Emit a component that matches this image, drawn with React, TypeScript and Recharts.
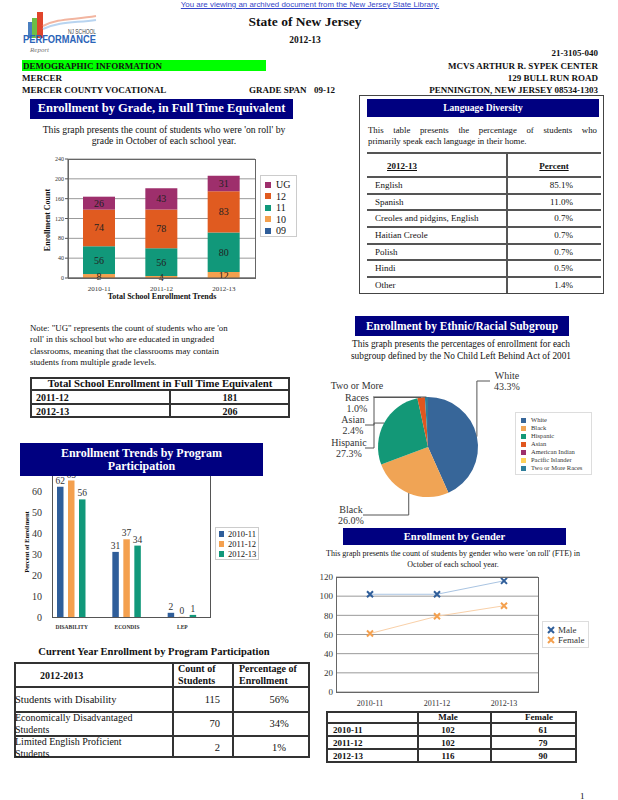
import React from 'react';
import { BarChart, Bar, XAxis, YAxis, CartesianGrid, LabelList, PieChart, Pie, Cell, LineChart, Line } from 'recharts';

const SERIF = '"Liberation Serif", "Times New Roman", serif';
const SANS = '"Liberation Sans", Arial, sans-serif';
const NAVY = '#000080';

// enrollment by grade (FTE)
const gradeYears = ['2010-11', '2011-12', '2012-13'];
const grade09 = [0, 0, 0];
const grade10 = [8, 4, 12];
const grade11 = [56, 56, 80];
const grade12 = [74, 78, 83];
const gradeUG = [26, 43, 31];
const gradeTicks = [0, 40, 80, 120, 160, 200, 240];

// language diversity 2012-13
const languages = ['English', 'Spanish', 'Creoles and pidgins, English', 'Haitian Creole', 'Polish', 'Hindi', 'Other'];
const languagePct = ['85.1%', '11.0%', '0.7%', '0.7%', '0.7%', '0.5%', '1.4%'];

// total school enrollment
const totalYears = ['2011-12', '2012-13'];
const totalFTE = [181, 206];

// program participation trends (percent)
const programs = ['DISABILITY', 'ECONDIS', 'LEP'];
const program1011 = [62, 31, 2];
const program1112 = [65, 37, 0];
const program1213 = [56, 34, 1];
const programTicks = [0, 10, 20, 30, 40, 50, 60, 70];

// current year program participation
const currentPrograms = ['Students with Disability', 'Economically Disadvantaged Students', 'Limited English Proficient Students'];
const currentCounts = [115, 70, 2];
const currentPct = ['56%', '34%', '1%'];

// ethnic / racial subgroup
const ethnicGroups = ['White', 'Black', 'Hispanic', 'Asian', 'American Indian', 'Pacific Islander', 'Two or More Races'];
const ethnicPct = [43.3, 26.0, 27.3, 2.4, 0, 0, 1.0];

// gender
const genderYears = ['2010-11', '2011-12', '2012-13'];
const maleCounts = [102, 102, 116];
const femaleCounts = [61, 79, 90];
const genderTicks = [0, 20, 40, 60, 80, 100, 120];

const gradeColors = { g09: '#2F5E9A', g10: '#F4A04E', g11: '#11987A', g12: '#E05B20', gUG: '#9E2F6C' };
const programColors = ['#2F5E9A', '#F4A04E', '#11987A'];
const ethnicColors = ['#376699', '#F0A455', '#139877', '#E0561E', '#9E2F6C', '#FFD15A', '#2E7D9A'];

// where each pie label sits, relative to the pie centre
const pieLabelLayout: Record<string, { elbowX: number | null; lineY: number; endX: number; textX: number }> = {
  White: { elbowX: null, lineY: -66, endX: 62, textX: 79 },
  Black: { elbowX: null, lineY: 68, endX: -65, textX: -77 },
  Hispanic: { elbowX: -54, lineY: 1, endX: -63, textX: -79 },
  Asian: { elbowX: -54, lineY: -22, endX: -63, textX: -75 },
  'Two or More Races': { elbowX: null, lineY: -50, endX: -55, textX: -71 },
};

const abs = (left: number, top: number, extra: React.CSSProperties = {}): React.CSSProperties => ({
  position: 'absolute', left, top, ...extra,
});

const TitleBar = ({ left, top, width, height, size, children }: any) => (
  <div style={abs(left, top, {
    width, height, background: NAVY, color: '#fff', fontWeight: 'bold', fontSize: size,
    display: 'flex', alignItems: 'center', justifyContent: 'center', textAlign: 'center', lineHeight: `${size + 1}px`, zIndex: 5,
  })}>{children}</div>
);

const Line1 = ({ x, y, size = 9, bold = false, align = 'left', w = 300, color = '#111', children, extra = {} }: any) => {
  const lh = size + 3;
  let left = x;
  if (align === 'center') left = x - w / 2;
  if (align === 'right') left = x - w;
  return (
    <div style={abs(left, y - lh / 2, { width: w, textAlign: align, fontSize: size, lineHeight: `${lh}px`, fontWeight: bold ? 'bold' : 'normal', color, whiteSpace: 'nowrap', ...extra })}>
      {children}
    </div>
  );
};

const XMark = ({ cx, cy, color }: any) => (
  <path d={`M${cx - 3},${cy - 3}L${cx + 3},${cy + 3}M${cx + 3},${cy - 3}L${cx - 3},${cy + 3}`} stroke={color} strokeWidth={2} fill="none" />
);

const renderEthnicLabel = (props: any) => {
  const { cx, cy, midAngle, outerRadius, value, index } = props;
  const name = props.name ?? props.payload?.name;
  const layout = pieLabelLayout[name];
  if (!value || !layout) return null;
  const rad = -midAngle * Math.PI / 180;
  const ax = cx + outerRadius * Math.cos(rad);
  const ay = cy + outerRadius * Math.sin(rad);
  const ex = layout.elbowX == null ? ax : cx + layout.elbowX;
  const ly = cy + layout.lineY;
  const words = name.length > 12 ? [name.slice(0, name.lastIndexOf(' ')), name.slice(name.lastIndexOf(' ') + 1)] : [name];
  const lines = [...words, `${value.toFixed(1)}%`];
  const lh = 11.5;
  return (
    <g key={`lbl-${index}`}>
      <polyline points={`${ax},${ay} ${ex},${ay} ${ex},${ly} ${cx + layout.endX},${ly}`} fill="none" stroke="#555" strokeWidth={1} />
      {lines.map((t, i) => (
        <text key={i} x={cx + layout.textX} y={ly + (i - (lines.length - 1) / 2) * lh + 3.5} textAnchor="middle" fontSize={10} fill="#333" fontFamily={SERIF}>{t}</text>
      ))}
    </g>
  );
};

export default function App() {
  const gradeData = gradeYears.map((year, i) => ({
    year, g09: grade09[i], g10: grade10[i], g11: grade11[i], g12: grade12[i], gUG: gradeUG[i],
  }));
  const programData = programs.map((p, i) => ({ program: p, y1011: program1011[i], y1112: program1112[i], y1213: program1213[i] }));
  const ethnicData = ethnicGroups.map((name, i) => ({ name, value: ethnicPct[i] }));
  const genderData = genderYears.map((year, i) => ({ year, male: maleCounts[i], female: femaleCounts[i] }));

  const gradeLegend: [string, keyof typeof gradeColors][] = [['UG', 'gUG'], ['12', 'g12'], ['11', 'g11'], ['10', 'g10'], ['09', 'g09']];
  const hideZero = (v: any) => (v ? v : '');

  const tickSerif = (size: number, bold = false) => ({ fontSize: size, fill: '#333', fontFamily: SERIF, fontWeight: bold ? 'bold' : 'normal' });

  return (
    <div style={{ position: 'absolute', left: 0, top: 0, width: 618, height: 800, background: '#fff', overflow: 'hidden', fontFamily: SERIF, color: '#111' }}>
      {/* header */}
      <Line1 x={310} y={5} size={7.9} align="center" w={420} color="#3446C8" extra={{ fontFamily: SANS, textDecoration: 'underline' }}>
        You are viewing an archived document from the New Jersey State Library.
      </Line1>
      <svg style={abs(18, 10)} width={90} height={48}>
        <rect x={10} y={12} width={4} height={16} fill="#4A7FC0" />
        <rect x={14} y={8} width={5} height={20} fill="#6DBE45" />
        <rect x={19} y={2} width={6} height={26} fill="#E0452B" />
        <path d="M25,16 C40,8 55,10 78,6" stroke="#F2B5A0" strokeWidth={2} fill="none" />
        <path d="M25,19 C42,11 58,13 78,10" stroke="#B8D4F0" strokeWidth={2} fill="none" />
        <text x={50} y={24} fontSize={6.5} fill="#444" fontFamily={SANS} textLength={28} lengthAdjust="spacingAndGlyphs">NJ SCHOOL</text>
        <text x={5} y={33} fontSize={10} fontWeight="bold" fill="#2B64B8" fontFamily={SANS} textLength={73} lengthAdjust="spacingAndGlyphs">PERFORMANCE</text>
        <text x={12} y={42} fontSize={7} fontStyle="italic" fill="#777" fontFamily={SERIF}>Report</text>
      </svg>
      <Line1 x={305} y={22} size={13.5} bold align="center">State of New Jersey</Line1>
      <Line1 x={305} y={40} size={9.5} bold align="center">2012-13</Line1>
      <Line1 x={598} y={53} size={9} bold align="right">21-3105-040</Line1>
      <div style={abs(22, 60, { width: 244, height: 11, background: '#00FF00' })} />
      <Line1 x={23} y={66} size={9} bold>DEMOGRAPHIC INFORMATION</Line1>
      <Line1 x={598} y={66} size={9} bold align="right">MCVS ARTHUR R. SYPEK CENTER</Line1>
      <Line1 x={22} y={78} size={9} bold>MERCER</Line1>
      <Line1 x={598} y={78} size={9} bold align="right">129 BULL RUN ROAD</Line1>
      <Line1 x={22} y={90} size={9} bold>MERCER COUNTY VOCATIONAL</Line1>
      <Line1 x={249} y={90} size={9} bold w={60}>GRADE SPAN</Line1>
      <Line1 x={314} y={90} size={9} bold w={30}>09-12</Line1>
      <Line1 x={598} y={90} size={9} bold align="right">PENNINGTON, NEW JERSEY 08534-1303</Line1>

      {/* enrollment by grade */}
      <TitleBar left={30} top={99} width={263} height={20} size={12.5}>Enrollment by Grade, in Full Time Equivalent</TitleBar>
      <Line1 x={164} y={130} size={9.7} align="center">This graph presents the count of students who were 'on roll' by</Line1>
      <Line1 x={164} y={141} size={9.7} align="center">grade in October of each school year.</Line1>
      <div style={abs(20, 150)}>
        <BarChart width={240} height={150} data={gradeData} margin={{ top: 9, right: 5, left: 0, bottom: 6 }} barSize={32}>
          <CartesianGrid vertical={false} stroke="#999" />
          <XAxis dataKey="year" height={16} tick={tickSerif(7)} tickLine={false} axisLine={{ stroke: '#555' }} />
          <YAxis width={48} domain={[0, 240]} ticks={gradeTicks} interval={0} tick={tickSerif(6)} tickSize={3} tickMargin={1} axisLine={{ stroke: '#555' }} tickLine={{ stroke: '#555' }} />
          {(['g09', 'g10', 'g11', 'g12', 'gUG'] as const).map((k) => (
            <Bar key={k} dataKey={k} stackId="g" fill={gradeColors[k]} isAnimationActive={false}>
              <LabelList dataKey={k} position="center" formatter={hideZero} style={{ fontSize: 10, fill: '#222', fontFamily: SERIF }} />
            </Bar>
          ))}
        </BarChart>
      </div>
      <div style={abs(68, 159, { width: 188, height: 120, boxSizing: 'border-box', border: '1px solid #666', pointerEvents: 'none' })} />
      <div style={abs(260, 175, { width: 37, height: 62, boxSizing: 'border-box', border: '1px solid #ccc', background: '#fff' })}>
        {gradeLegend.map(([label, key], i) => (
          <div key={key} style={abs(4, 3 + i * 11.5, { display: 'flex', alignItems: 'center', fontSize: 10, lineHeight: '11px' })}>
            <span style={{ width: 6, height: 6, background: gradeColors[key], marginRight: 5, display: 'inline-block' }} />
            {label}
          </div>
        ))}
      </div>
      <div style={abs(46.5, 220, { transform: 'translate(-50%, -50%) rotate(-90deg)', fontSize: 8, fontWeight: 'bold', whiteSpace: 'nowrap' })}>Enrollment Count</div>
      <Line1 x={162} y={296} size={8} bold align="center">Total School Enrollment Trends</Line1>

      {/* language diversity */}
      <div style={abs(359, 95, { width: 245, height: 199, boxSizing: 'border-box', border: '1px solid #444' })} />
      <TitleBar left={367} top={99} width={232} height={18} size={9.5}>Language Diversity</TitleBar>
      <div style={abs(368, 125, { width: 229, fontSize: 8.8, lineHeight: '11px', textAlign: 'justify', textAlignLast: 'justify' as any, whiteSpace: 'nowrap' })}>
        This table presents the percentage of students who
      </div>
      <Line1 x={368} y={142} size={8.8} w={229}>primarily speak each language in their home.</Line1>
      {[153, 177, ...languages.map((_, i) => 177 + (i + 1) * 16.67)].slice(0, 8).map((y, i) => (
        <div key={i} style={abs(367, y - 1, { width: 234, height: 2, background: '#555' })} />
      ))}
      <div style={abs(506, 153, { width: 2, height: 140, background: '#555' })} />
      <Line1 x={402} y={166} size={9} bold align="center" w={60} extra={{ textDecoration: 'underline' }}>2012-13</Line1>
      <Line1 x={554} y={166} size={9} bold align="center" w={60} extra={{ textDecoration: 'underline' }}>Percent</Line1>
      {languages.map((lang, i) => (
        <React.Fragment key={lang}>
          <Line1 x={375} y={185 + i * 16.67} size={9} w={130}>{lang}</Line1>
          <Line1 x={573} y={185 + i * 16.67} size={9} align="right" w={60}>{languagePct[i]}</Line1>
        </React.Fragment>
      ))}

      {/* note + total table */}
      <div style={abs(30, 323, { width: 230, fontSize: 8.8, lineHeight: '11.3px', whiteSpace: 'nowrap' })}>
        Note: "UG" represents the count of students who are 'on<br />
        roll' in this school but who are educated in ungraded<br />
        classrooms, meaning that the classrooms may contain<br />
        students from multiple grade levels.
      </div>
      <div style={abs(30, 377, { width: 260, height: 41, boxSizing: 'border-box', border: '2px solid #333' })} />
      <div style={abs(30, 389, { width: 260, height: 2, background: '#333' })} />
      <div style={abs(30, 403, { width: 260, height: 2, background: '#333' })} />
      <div style={abs(169, 390, { width: 2, height: 27, background: '#333' })} />
      <Line1 x={160} y={384} size={10.8} bold align="center">Total School Enrollment in Full Time Equivalent</Line1>
      {totalYears.map((yr, i) => (
        <React.Fragment key={yr}>
          <Line1 x={36} y={397.5 + i * 13.5} size={10} bold w={100}>{yr}</Line1>
          <Line1 x={230} y={397.5 + i * 13.5} size={10} bold align="center" w={60}>{totalFTE[i]}</Line1>
        </React.Fragment>
      ))}

      {/* program participation trends */}
      <div style={abs(10, 460)}>
        <BarChart width={205} height={175} data={programData} margin={{ top: 10, right: 5, left: 0, bottom: 4 }} barSize={6.5} barGap={4.5}>
          <XAxis dataKey="program" height={14} tick={tickSerif(5.5, true)} tickLine={false} axisLine={false} tickMargin={2} />
          <YAxis width={34} domain={[0, 70]} ticks={programTicks} interval={0} tick={tickSerif(10)} tickSize={0} tickMargin={2} axisLine={false} />
          {(['y1011', 'y1112', 'y1213'] as const).map((k, i) => (
            <Bar key={k} dataKey={k} fill={programColors[i]} minPointSize={0.2} isAnimationActive={false}>
              <LabelList dataKey={k} position="top" offset={3} style={{ fontSize: 9.5, fill: '#333', fontFamily: SERIF }} />
            </Bar>
          ))}
        </BarChart>
      </div>
      <div style={abs(52, 465, { width: 159, height: 153, boxSizing: 'border-box', borderLeft: '1px solid #555', borderRight: '1px solid #555', borderBottom: '1px solid #555', pointerEvents: 'none' })} />
      <TitleBar left={20} top={443} width={243} height={33} size={12}>Enrollment Trends by Program<br />Participation</TitleBar>
      <div style={abs(26, 542, { transform: 'translate(-50%, -50%) rotate(-90deg)', fontSize: 6.5, fontWeight: 'bold', whiteSpace: 'nowrap' })}>Percent of Enrollment</div>
      <div style={abs(215, 527, { width: 44, height: 33, boxSizing: 'border-box', border: '1px solid #ccc', background: '#fff' })}>
        {['2010-11', '2011-12', '2012-13'].map((label, i) => (
          <div key={label} style={abs(3, 1 + i * 10, { display: 'flex', alignItems: 'center', fontSize: 8.5, lineHeight: '10px' })}>
            <span style={{ width: 5, height: 6, background: programColors[i], marginRight: 4, display: 'inline-block' }} />
            {label}
          </div>
        ))}
      </div>

      {/* current year table */}
      <Line1 x={154} y={652} size={10.5} bold align="center">Current Year Enrollment by Program Participation</Line1>
      <div style={abs(14, 662, { width: 296, height: 96, boxSizing: 'border-box', border: '2px solid #333' })} />
      {[686, 711, 735].map((y) => (
        <div key={y} style={abs(14, y, { width: 296, height: 2, background: '#333' })} />
      ))}
      <div style={abs(172, 662, { width: 2, height: 96, background: '#333' })} />
      <div style={abs(232, 662, { width: 2, height: 96, background: '#333' })} />
      <Line1 x={40} y={675} size={10} bold w={80}>2012-2013</Line1>
      <div style={abs(178, 663, { fontSize: 10, fontWeight: 'bold', lineHeight: '12px' })}>Count of<br />Students</div>
      <div style={abs(239, 663, { fontSize: 10, fontWeight: 'bold', lineHeight: '12px' })}>Percentage of<br />Enrollment</div>
      {currentPrograms.map((p, i) => {
        const top = [688, 712, 737][i];
        const h = [23, 23, 21][i];
        return (
          <React.Fragment key={p}>
            <div style={abs(15, top, { width: 125, height: h, display: 'flex', alignItems: 'center', fontSize: i === 0 ? 10.5 : 10, lineHeight: '12px' })}>{p}</div>
            <Line1 x={220} y={top + h / 2} size={10.5} align="right" w={40}>{currentCounts[i]}</Line1>
            <Line1 x={279} y={top + h / 2} size={10.5} align="center" w={40}>{currentPct[i]}</Line1>
          </React.Fragment>
        );
      })}

      {/* ethnic pie */}
      <TitleBar left={355} top={316} width={214} height={20} size={11.5}>Enrollment by Ethnic/Racial Subgroup</TitleBar>
      <Line1 x={461} y={344} size={9.3} align="center">This graph presents the percentages of enrollment for each</Line1>
      <Line1 x={461} y={356} size={9.3} align="center">subgroup defined by the No Child Left Behind Act of 2001</Line1>
      <div style={abs(320, 360)}>
        <PieChart width={290} height={170}>
          <Pie data={ethnicData} dataKey="value" nameKey="name" cx={103} cy={82} outerRadius={50} startAngle={90} endAngle={-270}
            stroke="none" label={renderEthnicLabel} labelLine={false} isAnimationActive={false}>
            {ethnicData.map((d, i) => <Cell key={d.name} fill={ethnicColors[i]} />)}
          </Pie>
        </PieChart>
      </div>
      <div style={abs(515, 412, { width: 77, height: 63, boxSizing: 'border-box', border: '1px solid #ddd', background: '#fff' })}>
        {ethnicGroups.map((g, i) => (
          <div key={g} style={abs(5, 3 + i * 8, { display: 'flex', alignItems: 'center', fontSize: 6.5, lineHeight: '8px', whiteSpace: 'nowrap', color: '#333' })}>
            <span style={{ width: 5, height: 5, background: ethnicColors[i], marginRight: 5, display: 'inline-block' }} />
            {g}
          </div>
        ))}
      </div>

      {/* gender */}
      <TitleBar left={343} top={528} width={223} height={17} size={10.5}>Enrollment by Gender</TitleBar>
      <Line1 x={453} y={553} size={8} align="center">This graph presents the count of students by gender who were 'on roll' (FTE) in</Line1>
      <Line1 x={453} y={564} size={8} align="center">October of each school year.</Line1>
      <div style={abs(305, 568)}>
        <LineChart width={240} height={145} data={genderData} margin={{ top: 9, right: 7, left: 0, bottom: 3 }}>
          <CartesianGrid vertical={false} stroke="#999" />
          <XAxis dataKey="year" height={18} padding={{ left: 34, right: 34 }} tick={tickSerif(8)} tickLine={false} axisLine={false} tickMargin={2} />
          <YAxis width={31} domain={[0, 120]} ticks={genderTicks} interval={0} tick={tickSerif(9)} tickSize={0} tickMargin={3} axisLine={false} />
          <Line dataKey="male" stroke="#A9C4E2" strokeWidth={1} isAnimationActive={false}
            dot={(p: any) => <XMark key={`m${p.index}`} cx={p.cx} cy={p.cy} color="#2F5E9A" />} />
          <Line dataKey="female" stroke="#F9D0A8" strokeWidth={1} isAnimationActive={false}
            dot={(p: any) => <XMark key={`f${p.index}`} cx={p.cx} cy={p.cy} color="#F4A04E" />} />
        </LineChart>
      </div>
      <div style={abs(336, 577, { width: 203, height: 116, boxSizing: 'border-box', border: '1px solid #666', pointerEvents: 'none' })} />
      <div style={abs(542, 621, { width: 47, height: 27, boxSizing: 'border-box', border: '1px solid #ddd', background: '#fff' })}>
        {[['Male', '#2F5E9A'], ['Female', '#F4A04E']].map(([label, c], i) => (
          <div key={label} style={abs(4, 3 + i * 10, { display: 'flex', alignItems: 'center', fontSize: 9, lineHeight: '10px', color: '#333' })}>
            <svg width={8} height={8} style={{ marginRight: 3 }}><XMark cx={4} cy={4} color={c} /></svg>
            {label}
          </div>
        ))}
      </div>
      <div style={abs(326, 711, { width: 251, height: 52, boxSizing: 'border-box', border: '2px solid #333' })} />
      {[723, 736, 749].map((y) => (
        <div key={y} style={abs(326, y - 1, { width: 251, height: 2, background: '#333' })} />
      ))}
      <div style={abs(417, 711, { width: 2, height: 52, background: '#333' })} />
      <div style={abs(490, 711, { width: 2, height: 52, background: '#333' })} />
      <Line1 x={448} y={717} size={9} bold align="center" w={60}>Male</Line1>
      <Line1 x={539} y={717} size={9} bold align="center" w={60}>Female</Line1>
      {genderYears.map((yr, i) => (
        <React.Fragment key={yr}>
          <Line1 x={333} y={730 + i * 13} size={9} bold w={60}>{yr}</Line1>
          <Line1 x={448} y={730 + i * 13} size={9} bold align="center" w={60}>{maleCounts[i]}</Line1>
          <Line1 x={543} y={730 + i * 13} size={9} bold align="center" w={60}>{femaleCounts[i]}</Line1>
        </React.Fragment>
      ))}

      <Line1 x={580} y={796} size={9}>1</Line1>
    </div>
  );
}
